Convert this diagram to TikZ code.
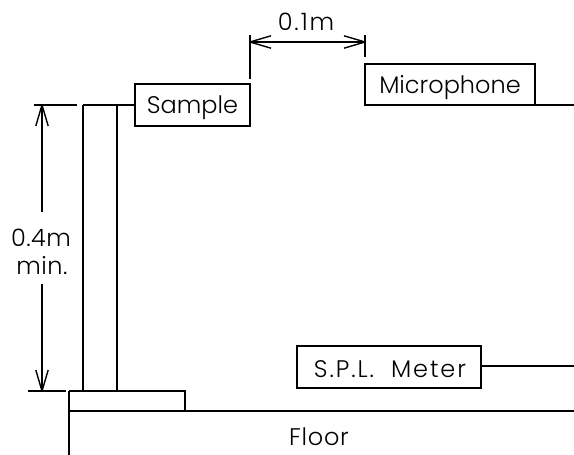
\documentclass[tikz,border=0pt]{standalone}
\usepackage{fontspec}
\setmainfont{Poppins Light}
\usetikzlibrary{arrows.meta}
\pgfdeclarearrow{
  name=VBarb,
  setup code={\pgfarrowssettipend{0pt}\pgfarrowssetbackend{-21pt}\pgfarrowssetlineend{-0.5pt}\pgfarrowssetvisualbackend{-21pt}},
  drawing code={\pgfsetdash{}{0pt}\pgfsetroundjoin\pgfsetlinewidth{1.4pt}%
    \pgfpathmoveto{\pgfqpoint{-21pt}{6.2pt}}%
    \pgfpathlineto{\pgfqpoint{0pt}{0pt}}%
    \pgfpathlineto{\pgfqpoint{-21pt}{-6.2pt}}%
    \pgfusepathqstroke}
}
\tikzset{
  every path/.style={line width=1.3pt,line cap=butt,line join=miter},
  lbl/.style={inner sep=0pt,font=\fontsize{24}{28}\selectfont,text=black},
  boxed/.style={draw,inner sep=0pt,outer sep=0pt,line width=1.3pt}
}
\begin{document}
\begin{tikzpicture}[x=1pt,y=-1pt]
\useasboundingbox (0,0) rectangle (574,455);
% boxes
\node[boxed,minimum width=115pt,minimum height=42pt] (sample) at (192.5,105) {};
\node[lbl] (sampletxt) at (192.5,108) {Sample};
\node[boxed,minimum width=170pt,minimum height=41pt] (mic) at (450,84.5) {};
\node[lbl] (mictxt) at (450,88) {Microphone};
\node[boxed,minimum width=184pt,minimum height=42pt] (spl) at (389,367) {};
\node[lbl] (spltxt) at (390,369) {\addfontfeature{LetterSpace=8}S.P.L.\ \ Meter};
\node[lbl] (floortxt) at (319,437) {\addfontfeature{LetterSpace=3}Floor};
\node[lbl] (dim1) at (306,22) {\addfontfeature{LetterSpace=8}0.1m};
\node[lbl] (dim2a) at (41,238) {\addfontfeature{LetterSpace=2}0.4m};
\node[lbl] (dim2b) at (42,266) {\addfontfeature{LetterSpace=2}min.};
% coordinates
\coordinate (micend) at (574,105);
\coordinate (splend) at (574,366);
\coordinate (floorL) at (69,411);
\coordinate (floorR) at (574,411);
\coordinate (wallT) at (69,391);
\coordinate (wallB) at (69,455);
\coordinate (baseTR) at (185,391);
\coordinate (baseBR) at (185,411);
\coordinate (p1t) at (83,105);
\coordinate (p1b) at (83,391);
\coordinate (p2t) at (117,105);
\coordinate (p2b) at (117,391);
\coordinate (t1a) at (34,105);
\coordinate (t1b) at (77,105);
\coordinate (t2a) at (28,391);
\coordinate (t2b) at (66,391);
\coordinate (a1) at (42,105);
\coordinate (a2) at (42,212);
\coordinate (a3) at (42,284);
\coordinate (a4) at (42,391);
\coordinate (e1a) at (250,35);
\coordinate (e1b) at (250,79);
\coordinate (e2a) at (365,35);
\coordinate (e2b) at (365,57);
\coordinate (h1) at (250,42);
\coordinate (h2) at (365,42);
% lines
\draw (mic.south east) -- (micend);
\draw (spl.east |- splend) -- (splend);
\draw (floorL) -- (floorR);
\draw (wallT) -- (wallB);
\draw (wallT) -- (baseTR) -- (baseBR);
\draw (p1t) -- (p1b);
\draw (p2t) -- (p2b);
\draw (p1t) -- (sample.west |- p1t);
\draw (t1a) -- (t1b);
\draw (t2a) -- (t2b);
\draw (e1a) -- (e1b);
\draw (e2a) -- (e2b);
\draw[{VBarb}-{VBarb}] (h1) -- (h2);
\draw[{VBarb}-] (a1) -- (a2);
\draw[-{VBarb}] (a3) -- (a4);
\end{tikzpicture}
\end{document}
